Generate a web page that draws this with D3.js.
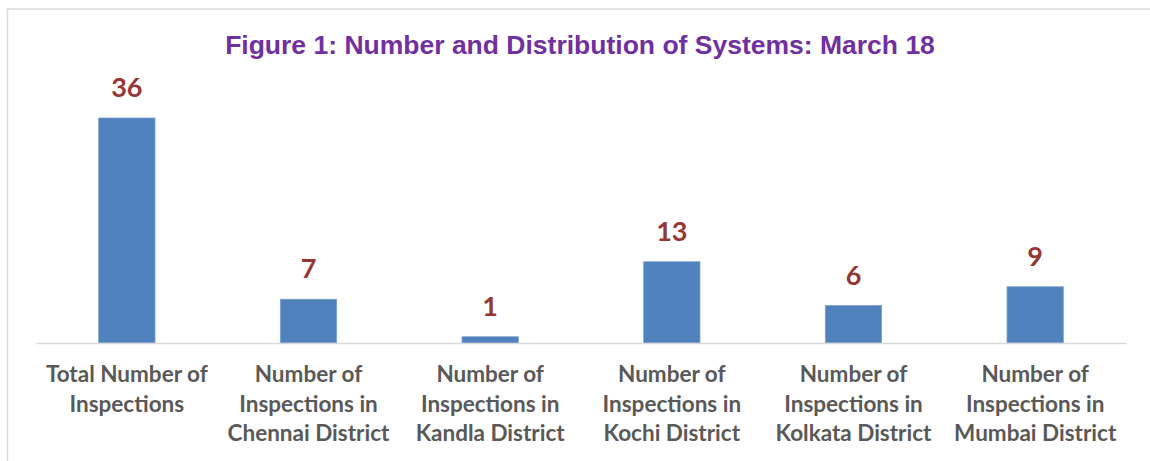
<!DOCTYPE html>
<html>
<head>
<meta charset="utf-8">
<script src="https://cdn.jsdelivr.net/npm/d3@7"></script>
<style>
  body { margin: 0; background: white; }
  #chart { width: 1150px; height: 461px; }
</style>
</head>
<body>
<div id="chart"></div>
<script>

// chart data
let categories = [
    "Total Number of|Inspections",
    "Number of|Inspections in|Chennai District",
    "Number of|Inspections in|Kandla District",
    "Number of|Inspections in|Kochi District",
    "Number of|Inspections in|Kolkata District",
    "Number of|Inspections in|Mumbai District"
];
let values = [36, 7, 1, 13, 6, 9];
let title = "Figure 1: Number and Distribution of Systems: March 18";

let width = 1150, height = 461;

let svg = d3.select("#chart").append("svg")
    .attr("width", width)
    .attr("height", height);

// outer frame (runs off the right and bottom edges)
svg.append("rect")
    .attr("x", 7.5)
    .attr("y", 9)
    .attr("width", 1160)
    .attr("height", 470)
    .attr("fill", "white")
    .attr("stroke", "#d9d9d9")
    .attr("stroke-width", 1.5);

// title
svg.append("text")
    .attr("x", 580)
    .attr("y", 54)
    .attr("text-anchor", "middle")
    .attr("font-family", "Liberation Sans, Arial, sans-serif")
    .attr("font-weight", "bold")
    .attr("font-size", 26.5)
    .attr("fill", "#7030A0")
    .text(title);

// scales
let x = d3.scaleBand()
    .domain(categories)
    .range([36, 1126])
    .paddingInner(0.69)
    .paddingOuter(0.345);

let y = d3.scaleLinear()
    .domain([0, 40])
    .range([343, 93]);

// bars
svg.selectAll(".bar")
    .data(values)
    .enter()
    .append("rect")
    .attr("class", "bar")
    .attr("x", (d, i) => x(categories[i]))
    .attr("y", d => y(d))
    .attr("width", x.bandwidth())
    .attr("height", d => y(0) - y(d))
    .attr("fill", "#4F81BD")
    .attr("stroke", "#7d9fcf")
    .attr("stroke-width", 0.8);

// baseline
let axis = d3.axisBottom(x).tickSize(0).tickFormat("");
let axisG = svg.append("g")
    .attr("transform", `translate(0, ${y(0)})`)
    .call(axis);
axisG.select(".domain")
    .attr("stroke", "#d9d9d9")
    .attr("stroke-width", 1.5);

// value labels
svg.selectAll(".value")
    .data(values)
    .enter()
    .append("text")
    .attr("class", "value")
    .attr("x", (d, i) => x(categories[i]) + x.bandwidth() / 2)
    .attr("y", d => y(d) - 21)
    .attr("text-anchor", "middle")
    .attr("font-family", "Lato, sans-serif")
    .attr("font-weight", "bold")
    .attr("font-size", 27)
    .attr("fill", "#953735")
    .text(d => d);

// category labels
let labels = svg.selectAll(".cat")
    .data(categories)
    .enter()
    .append("text")
    .attr("class", "cat")
    .attr("text-anchor", "middle")
    .attr("font-family", "Lato, sans-serif")
    .attr("font-weight", "bold")
    .attr("font-size", 22.5)
    .attr("fill", "#595959");

labels.selectAll("tspan")
    .data(d => d.split("|").map(line => ({line: line, cat: d})))
    .enter()
    .append("tspan")
    .attr("x", d => x(d.cat) + x.bandwidth() / 2)
    .attr("y", (d, i) => 382 + i * 29.5)
    .text(d => d.line);

</script>
</body>
</html>
